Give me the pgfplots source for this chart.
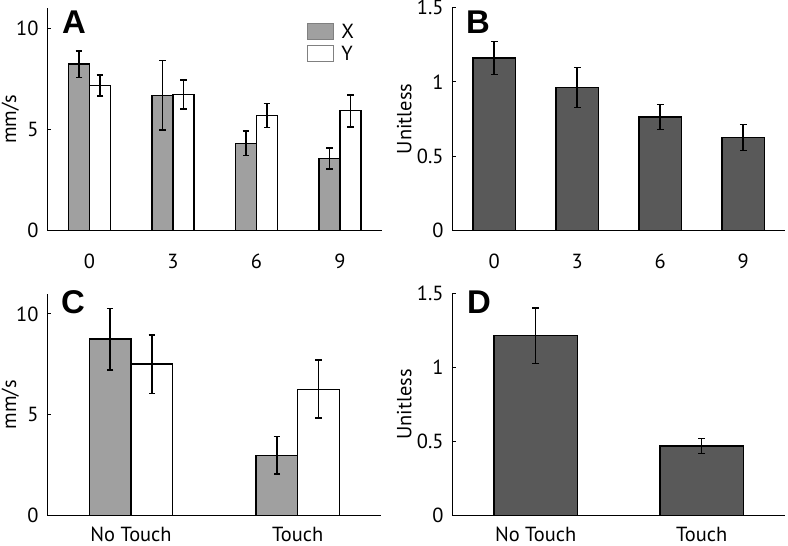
\documentclass[border=0pt]{standalone}
\usepackage{fontspec}
\setmainfont{PT Sans}
\newfontfamily\letfont{Liberation Sans}
\usepackage{pgfplots}
\pgfplotsset{compat=1.18}
\definecolor{lgrey}{HTML}{A0A0A0}
\definecolor{dgrey}{HTML}{595959}
\pgfplotsset{
  panel/.style={
    scale only axis,
    anchor=north west,
    axis x line=bottom, axis y line=left,
    axis line style={-, line width=1.3bp},
    ymin=0,
    tick align=inside,
    major tick length=3bp,
    ytick style={line width=1bp, black},
    xtick style={draw=none},
    tick label style={font=\fontsize{20.5}{22}\selectfont},
    label style={font=\fontsize{20.5}{22}\selectfont},
    /pgf/number format/assume math mode=true,
    yticklabel style={inner sep=0pt, xshift=-9bp},
    every axis plot/.append style={draw=black, line width=1.3bp},
    error bars/y dir=both, error bars/y explicit,
    error bars/error bar style={line width=1.5bp, black},
    error bars/error mark options={rotate=90, mark size=3.3bp, line width=1.5bp, black},
  }
}
\begin{document}
\begin{tikzpicture}
\useasboundingbox (0bp,0bp) rectangle (788bp,-546bp);
% Panel A
\begin{axis}[panel, at={(47.7bp,-8.3bp)}, width=334bp, height=222.4bp,
  xmin=0.5, xmax=4.5, ymax=11, ytick={0,5,10},
  xtick={1,2,3,4}, xticklabels={0,3,6,9},
  xticklabel style={inner sep=0pt, yshift=-20bp},
  ylabel={mm/s}, ylabel style={at={(rel axis cs:0,0.5)}, yshift=37.5bp, anchor=center},
  ybar=0pt, bar width=21bp,
  legend style={at={(0.776,0.935)}, anchor=north west, draw=none, fill=none,
    font=\fontsize{20.5}{22}\selectfont, row sep=4bp, column sep=6bp, inner sep=0pt,
    nodes={inner sep=1bp}},
  legend cell align=left,
  legend image code/.code={\draw[#1, draw=gray, line width=1.2bp] (0bp,-8bp) rectangle (26bp,8bp);},
]
\addplot[fill=lgrey] coordinates {(1,8.24) +- (0,0.66) (2,6.70) +- (0,1.71) (3,4.32) +- (0,0.61) (4,3.58) +- (0,0.52)};
\addplot[fill=white] coordinates {(1,7.18) +- (0,0.52) (2,6.74) +- (0,0.72) (3,5.70) +- (0,0.60) (4,5.93) +- (0,0.79)};
\legend{X,Y}
\end{axis}
% Panel B
\begin{axis}[panel, at={(452.7bp,-7.3bp)}, width=332bp, height=223.4bp,
  xmin=0.5, xmax=4.5, ymax=1.5, ytick={0,0.5,1,1.5},
  xtick={1,2,3,4}, xticklabels={0,3,6,9},
  xticklabel style={inner sep=0pt, yshift=-20bp},
  ylabel={Unitless}, ylabel style={at={(rel axis cs:0,0.5)}, yshift=48.5bp, anchor=center},
  ybar=0pt, bar width=42.3bp,
]
\addplot[fill=dgrey] coordinates {(1,1.160) +- (0,0.112) (2,0.962) +- (0,0.134) (3,0.763) +- (0,0.084) (4,0.626) +- (0,0.086)};
\end{axis}
% Panel C
\begin{axis}[panel, at={(47.7bp,-293.7bp)}, width=333.3bp, height=222bp,
  xmin=0.5, xmax=2.5, ymax=11, ytick={0,5,10},
  xtick={1,2}, xticklabels={No Touch,Touch},
  xticklabel style={inner sep=0pt, yshift=-8bp},
  ylabel={mm/s}, ylabel style={at={(rel axis cs:0,0.5)}, yshift=37.5bp, anchor=center},
  ybar=0pt, bar width=41.7bp,
]
\addplot[fill=lgrey] coordinates {(1,8.75) +- (0,1.52) (2,3.00) +- (0,0.93)};
\addplot[fill=white] coordinates {(1,7.51) +- (0,1.45) (2,6.27) +- (0,1.44)};
\end{axis}
% Panel D
\begin{axis}[panel, at={(452.7bp,-293.0bp)}, width=332bp, height=222.7bp,
  xmin=0.5, xmax=2.5, ymax=1.5, ytick={0,0.5,1,1.5},
  xtick={1,2}, xticklabels={No Touch,Touch},
  xticklabel style={inner sep=0pt, yshift=-8bp},
  ylabel={Unitless}, ylabel style={at={(rel axis cs:0,0.5)}, yshift=48.5bp, anchor=center},
  ybar=0pt, bar width=83.5bp,
]
\addplot[fill=dgrey] coordinates {(1,1.212) +- (0,0.187) (2,0.469) +- (0,0.050)};
\end{axis}
% Panel letters
\node[anchor=base west, inner sep=0pt, font=\letfont\bfseries\fontsize{33}{35}\selectfont] at (62bp,-33bp) {A};
\node[anchor=base west, inner sep=0pt, font=\letfont\bfseries\fontsize{33}{35}\selectfont] at (466bp,-33bp) {B};
\node[anchor=base west, inner sep=0pt, font=\letfont\bfseries\fontsize{33}{35}\selectfont] at (61bp,-313bp) {C};
\node[anchor=base west, inner sep=0pt, font=\letfont\bfseries\fontsize{33}{35}\selectfont] at (467bp,-313.7bp) {D};
\end{tikzpicture}
\end{document}
